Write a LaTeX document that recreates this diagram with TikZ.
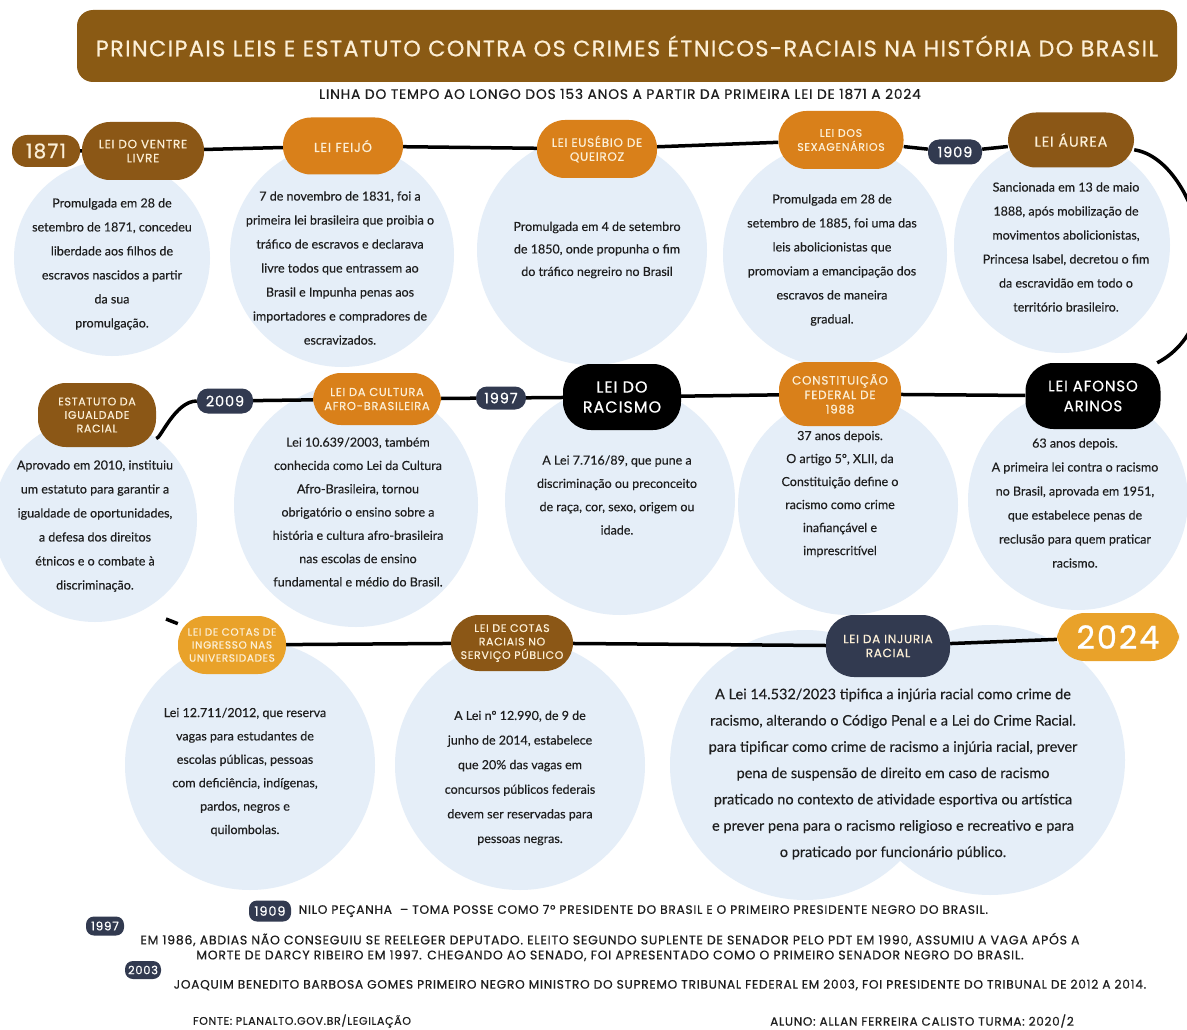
\documentclass[tikz,border=0pt]{standalone}
\usepackage{fontspec}
\setmainfont{Lato}[FakeBold=0.25]
\newfontfamily\capsfont{Poppins}[LetterSpace=6,FakeBold=0.6]
\usetikzlibrary{positioning}
\pgfdeclarelayer{bg}
\pgfdeclarelayer{lines}
\pgfsetlayers{bg,lines,main}
\definecolor{barbrown}{HTML}{8A5A14}
\definecolor{lawbrown}{HTML}{8B5716}
\definecolor{laworange}{HTML}{D9801A}
\definecolor{lawgold}{HTML}{E9A22A}
\definecolor{lawnavy}{HTML}{323A50}
\definecolor{paleblue}{HTML}{E5EEF8}
\definecolor{cream}{HTML}{FCEFD6}
\definecolor{bodytext}{HTML}{1E1E1E}

\begin{document}
\begin{tikzpicture}[x=1pt,y=-1pt,
  law/.style={rounded corners=28pt,align=center,text=cream,inner sep=2pt,
    font=\capsfont\fontsize{12}{14}\selectfont},
  brownlaw/.style={law,fill=lawbrown},
  orangelaw/.style={law,fill=laworange},
  goldlaw/.style={law,fill=lawgold},
  navylaw/.style={law,fill=lawnavy},
  blacklaw/.style={law,fill=black,text=white,font=\capsfont\fontsize{16}{20}\selectfont},
  yearbox/.style={fill=lawnavy,rounded corners=11pt,text=white,inner sep=1pt,
    font=\capsfont\fontsize{14.5}{14.5}\selectfont},
  notebox/.style={yearbox,rounded corners=8pt,font=\capsfont\fontsize{13}{13}\selectfont},
  info/.style={align=center,text=bodytext,font=\fontsize{12.5}{24}\selectfont},
  note/.style={align=center,text=bodytext,font=\capsfont\fontsize{12.2}{15}\selectfont},
  timeline/.style={line width=3.5pt}
]
\useasboundingbox (0,0) rectangle (1187,1030);

% background and bubbles
\begin{pgfonlayer}{bg}
  \fill[white] (0,0) rectangle (1187,1030);
  \fill[paleblue] (112,258) circle (98pt);
  \fill[paleblue] (342,255) circle (112pt);
  \fill[paleblue] (592,250) circle (115pt);
  \fill[paleblue] (835,255) circle (112pt);
  \fill[paleblue] (1062,245) circle (108pt);
  \fill[paleblue] (95,520) circle (102pt);
  \fill[paleblue] (356,505) circle (122pt);
  \fill[paleblue] (620,500) circle (115pt);
  \fill[paleblue] (848,505) circle (110pt);
  \fill[paleblue] (1078,500) circle (110pt);
  \fill[paleblue] (250,765) circle (125pt);
  \fill[paleblue] (520,765) circle (125pt);
  \fill[paleblue] (805,765) circle (135pt);
  \fill[paleblue] (990,760) circle (135pt);
\end{pgfonlayer}

% title
\node (title) at (627,46) [fill=barbrown,rounded corners=16pt,minimum width=1100,minimum height=72,
  text=cream,font=\capsfont\fontsize{22.4}{22.4}\selectfont]
  {PRINCIPAIS LEIS E ESTATUTO CONTRA OS CRIMES ÉTNICOS-RACIAIS NA HISTÓRIA DO BRASIL};
\node (subtitle) at (620,94) [text=bodytext,font=\capsfont\fontsize{13.8}{13.8}\selectfont]
  {LINHA DO TEMPO AO LONGO DOS 153 ANOS A PARTIR DA PRIMEIRA LEI DE 1871 A 2024};

% first row
\node[brownlaw,minimum width=68,minimum height=32,rounded corners=15pt,font=\capsfont\fontsize{20}{20}\selectfont] (n1871) at (46,151) {1871};
\node[brownlaw,minimum width=122,minimum height=58] (ventre) at (143,151) {LEI DO VENTRE\\LIVRE};
\node[orangelaw,minimum width=120,minimum height=57,font=\capsfont\fontsize{13}{15}\selectfont] (feijo) at (343,146) {LEI FEIJÓ};
\node[orangelaw,minimum width=120,minimum height=58] (eusebio) at (597,149) {LEI EUSÉBIO DE\\QUEIROZ};
\node[orangelaw,minimum width=125,minimum height=58,font=\capsfont\fontsize{11}{14}\selectfont] (sexa) at (841,140) {LEI DOS\\SEXAGENÁRIOS};
\node[yearbox,minimum width=54,minimum height=25] (b1909) at (955,152) {1909};
\node[brownlaw,minimum width=126,minimum height=55,font=\capsfont\fontsize{14.5}{16}\selectfont] (aurea) at (1071,140) {LEI ÁUREA};

\node[info] (ventretxt) at (112,264) {Promulgada em 28 de\\setembro de 1871, concedeu\\liberdade aos filhos de\\escravos nascidos a partir\\da sua\\promulgação.};
\node[info] (feijotxt) at (340,268) {7 de novembro de 1831, foi a\\primeira lei brasileira que proibia o\\tráfico de escravos e declarava\\livre todos que entrassem ao\\Brasil e Impunha penas aos\\importadores e compradores de\\escravizados.};
\node[info,font=\fontsize{12.5}{22.5}\selectfont] (eusebiotxt) at (597,250) {Promulgada em 4 de setembro\\de 1850, onde propunha o fim\\do tráfico negreiro no Brasil};
\node[info] (sexatxt) at (832,260) {Promulgada em 28 de\\setembro de 1885, foi uma das\\leis abolicionistas que\\promoviam a emancipação dos\\escravos de maneira\\gradual.};
\node[info] (aureatxt) at (1066,247) {Sancionada em 13 de maio\\1888, após mobilização de\\movimentos abolicionistas,\\Princesa Isabel, decretou o fim\\da escravidão em todo o\\território brasileiro.};

% second row
\node[brownlaw,minimum width=118,minimum height=64,font=\capsfont\fontsize{11}{13.5}\selectfont] (estatuto) at (97,415) {ESTATUTO DA\\IGUALDADE\\RACIAL};
\node[yearbox,minimum width=56,minimum height=25] (b2009) at (225,401) {2009};
\node[orangelaw,minimum width=128,minimum height=52,font=\capsfont\fontsize{11.5}{14}\selectfont] (cultura) at (377,399) {LEI DA CULTURA\\AFRO-BRASILEIRA};
\node[yearbox,minimum width=50,minimum height=23] (b1997) at (501,398) {1997};
\node[blacklaw,minimum width=118,minimum height=66] (racismo) at (622,397) {LEI DO\\RACISMO};
\node[orangelaw,minimum width=122,minimum height=64,font=\capsfont\fontsize{12}{14.5}\selectfont] (constit) at (840,394) {CONSTITUIÇÃO\\FEDERAL DE\\1988};
\node[blacklaw,minimum width=135,minimum height=66,font=\capsfont\fontsize{15}{20}\selectfont] (afonso) at (1093,396) {LEI AFONSO\\ARINOS};

\node[info] (estatutotxt) at (95,526) {Aprovado em 2010, instituiu\\um estatuto para garantir a\\igualdade de oportunidades,\\a defesa dos direitos\\étnicos e o combate à\\discriminação.};
\node[info,font=\fontsize{12.5}{23.3}\selectfont] (culturatxt) at (358,512) {Lei 10.639/2003, também\\conhecida como Lei da Cultura\\Afro-Brasileira, tornou\\obrigatório o ensino sobre a\\história e cultura afro-brasileira\\nas escolas de ensino\\fundamental e médio do Brasil.};
\node[info,font=\fontsize{12.5}{23.3}\selectfont] (racismotxt) at (617,495) {A Lei 7.716/89, que pune a\\discriminação ou preconceito\\de raça, cor, sexo, origem ou\\idade.};
\node[info,font=\fontsize{12.5}{23}\selectfont] (constittxt) at (840,494) {37 anos depois.\\O artigo 5º, XLII, da\\Constituição define o\\racismo como crime\\inafiançável e\\imprescritível};
\node[info] (afonsotxt) at (1075,503) {63 anos depois.\\A primeira lei contra o racismo\\no Brasil, aprovada em 1951,\\que estabelece penas de\\reclusão para quem praticar\\racismo.};

% third row
\coordinate (tick) at (166,619);
\node[goldlaw,minimum width=108,minimum height=58,font=\capsfont\fontsize{10.5}{13}\selectfont] (cotasing) at (232,645) {LEI DE COTAS DE\\INGRESSO NAS\\UNIVERSIDADES};
\node[brownlaw,minimum width=122,minimum height=56,font=\capsfont\fontsize{11}{13.5}\selectfont] (cotasserv) at (512,643) {LEI DE COTAS\\RACIAIS NO\\SERVIÇO PÚBLICO};
\node[navylaw,minimum width=124,minimum height=62] (injuria) at (888,646) {LEI DA INJURIA\\RACIAL};
\node[goldlaw,minimum width=122,minimum height=48,text=white,font=\capsfont\fontsize{32}{32}\selectfont] (y2024) at (1118,637) {2024};

\node[info,font=\fontsize{12.5}{23.4}\selectfont] (cotasingtxt) at (245,772) {Lei 12.711/2012, que reserva\\vagas para estudantes de\\escolas públicas, pessoas\\com deficiência, indígenas,\\pardos, negros e\\quilombolas.};
\node[info,font=\fontsize{12.5}{24.6}\selectfont] (cotasservtxt) at (520,778) {A Lei nº 12.990, de 9 de\\junho de 2014, estabelece\\que 20\% das vagas em\\concursos públicos federais\\devem ser reservadas para\\pessoas negras.};
\node[info,font=\fontsize{14.5}{26.3}\selectfont] (injuriatxt) at (893,774) {A Lei 14.532/2023 tipifica a injúria racial como crime de\\racismo, alterando o Código Penal e a Lei do Crime Racial.\\para tipificar como crime de racismo a injúria racial, prever\\pena de suspensão de direito em caso de racismo\\praticado no contexto de atividade esportiva ou artística\\e prever pena para o racismo religioso e recreativo e para\\o praticado por funcionário público.};

% timeline
\begin{pgfonlayer}{lines}
  \draw[timeline] (n1871) -- (ventre) -- (feijo) -- (eusebio) -- (sexa) -- (b1909) -- (aurea);
  \draw[timeline] (aurea) .. controls (1200,160) and (1240,320) .. (afonso);
  \draw[timeline] (afonso) -- (constit) -- (racismo) -- (b1997) -- (cultura) -- (b2009);
  \draw[timeline] (b2009) .. controls (175,401) and (160,440) .. (estatuto);
  \draw[timeline] (tick) -- (cotasing) -- (cotasserv) -- (injuria) -- (y2024);
\end{pgfonlayer}

% notes
\node[notebox,minimum width=42,minimum height=21] (fn1909) at (270,911) {1909};
\node[note,right=4pt of fn1909] (nilo) {NILO PEÇANHA \ – TOMA POSSE COMO 7º PRESIDENTE DO BRASIL E O PRIMEIRO PRESIDENTE NEGRO DO BRASIL.};
\node[notebox,minimum width=38,minimum height=19,font=\capsfont\fontsize{12}{12}\selectfont] (fn1997) at (105,926) {1997};
\node[note,font=\capsfont\fontsize{12.5}{15}\selectfont] (abdias) at (610,947) {EM 1986, ABDIAS NÃO CONSEGUIU SE REELEGER DEPUTADO. ELEITO SEGUNDO SUPLENTE DE SENADOR PELO PDT EM 1990, ASSUMIU A VAGA APÓS A\\MORTE DE DARCY RIBEIRO EM 1997. CHEGANDO AO SENADO, FOI APRESENTADO COMO O PRIMEIRO SENADOR NEGRO DO BRASIL.};
\node[notebox,minimum width=36,minimum height=18,font=\capsfont\fontsize{11.5}{11.5}\selectfont] (fn2003) at (143,970) {2003};
\node[note] (joaquim) at (660,985) {JOAQUIM BENEDITO BARBOSA GOMES PRIMEIRO NEGRO MINISTRO DO SUPREMO TRIBUNAL FEDERAL EM 2003, FOI PRESIDENTE DO TRIBUNAL DE 2012 A 2014.};

\node[note,font=\capsfont\fontsize{11}{11}\selectfont] (fonte) at (302,1021) {FONTE: PLANALTO.GOV.BR/LEGILAÇÃO};
\node[note,font=\capsfont\fontsize{12}{12}\selectfont] (aluno) at (922,1021) {ALUNO: ALLAN FERREIRA CALISTO TURMA: 2020/2};
\end{tikzpicture}
\end{document}
